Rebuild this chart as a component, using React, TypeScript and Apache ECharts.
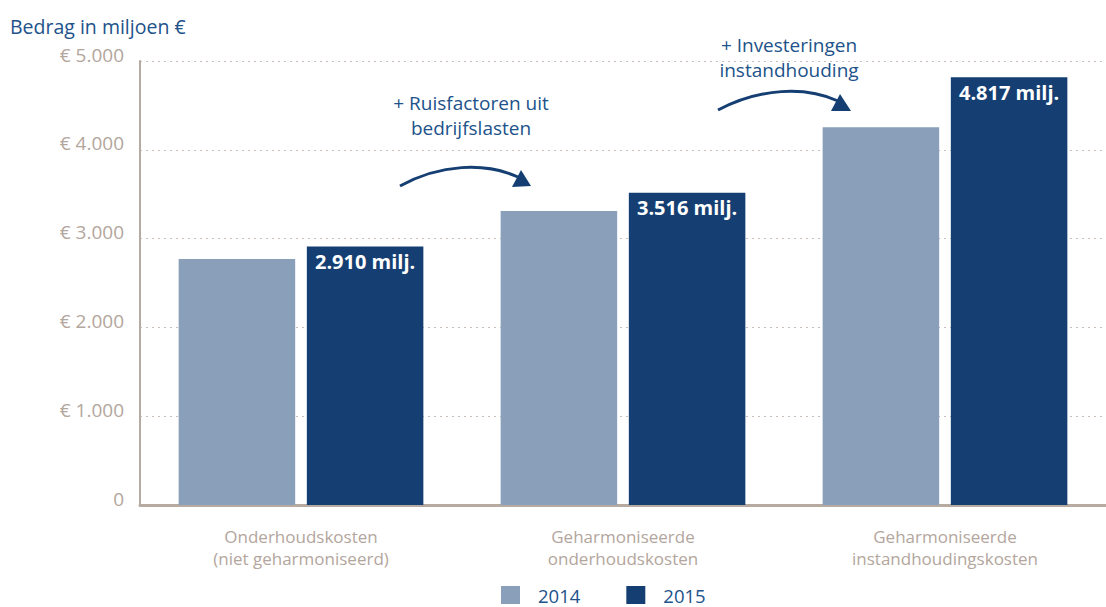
import React, { useEffect, useRef } from "react";
import * as echarts from "echarts";

const categories = [
  "Onderhoudskosten\n(niet geharmoniseerd)",
  "Geharmoniseerde\nonderhoudskosten",
  "Geharmoniseerde\ninstandhoudingskosten",
];
const values2014 = [2770, 3310, 4255];
const values2015 = [2910, 3516, 4817];
const seriesNames = ["2014", "2015"];
const yTicks = [0, 1000, 2000, 3000, 4000, 5000];

const FONT = "'Open Sans', 'Noto Sans', sans-serif";
const C2014 = "#8a9fb9";
const C2015 = "#153f73";
const AXIS = "#b7aba1";
const LABEL = "#b3a69d";
const BLUE_TEXT = "#21528a";

const fmt = (v: number) => {
  const s = String(Math.round(v));
  return s.replace(/\B(?=(\d{3})+(?!\d))/g, ".");
};

export default function App() {
  const ref = useRef<HTMLDivElement>(null);
  useEffect(() => {
    if (!ref.current) return;
    const chart = echarts.init(ref.current, undefined, { renderer: "svg" });
    chart.setOption({
      animation: false,
      grid: { left: 140, width: 972, top: 61, height: 444, containLabel: false },
      legend: {
        data: seriesNames,
        top: 584,
        left: 501,
        padding: 0,
        itemWidth: 19,
        itemHeight: 18,
        itemGap: 46,
        icon: "rect",
        textStyle: {
          color: BLUE_TEXT,
          fontSize: 18.5,
          lineHeight: 22,
          fontFamily: FONT,
          padding: [0, 0, 0, 13],
        },
      },
      xAxis: {
        type: "category",
        data: categories,
        axisTick: { show: false },
        axisLine: { show: true, lineStyle: { color: AXIS, width: 3 } },
        axisLabel: {
          color: LABEL,
          fontSize: 17,
          fontFamily: FONT,
          lineHeight: 22,
          margin: 20,
        },
      },
      yAxis: {
        type: "value",
        min: yTicks[0],
        max: yTicks[yTicks.length - 1],
        interval: 1000,
        axisLine: { show: true, lineStyle: { color: AXIS, width: 2 } },
        axisTick: { show: false },
        splitLine: { show: true, lineStyle: { color: "#c9bfb8", type: [2, 4], width: 1 } },
        axisLabel: {
          color: LABEL,
          fontSize: 19,
          fontFamily: FONT,
          margin: 16,
          verticalAlign: "bottom",
          lineHeight: 13,
          formatter: (v: number) => (v === 0 ? "0" : "€ " + fmt(v)),
        },
      },
      graphic: [
        {
          type: "text",
          left: 10,
          top: 16,
          style: { text: "Bedrag in miljoen €", fill: BLUE_TEXT, fontSize: 19.5, fontFamily: FONT },
        },
        {
          type: "text",
          x: 471,
          y: 90,
          style: {
            text: "+ Ruisfactoren uit\nbedrijfslasten",
            fill: BLUE_TEXT,
            fontSize: 19,
            lineHeight: 25,
            align: "center",
            fontFamily: FONT,
          },
        },
        {
          type: "text",
          x: 789,
          y: 32,
          style: {
            text: "+ Investeringen\ninstandhouding",
            fill: BLUE_TEXT,
            fontSize: 19,
            lineHeight: 25,
            align: "center",
            fontFamily: FONT,
          },
        },
        {
          type: "bezierCurve",
          shape: { x1: 400, y1: 186, cpx1: 440, cpy1: 164, cpx2: 485, cpy2: 162, x2: 518, y2: 177 },
          style: { stroke: C2015, lineWidth: 3, fill: "none" },
        },
        {
          type: "polygon",
          shape: { points: [[521, 170], [512, 187], [531, 186]] },
          style: { fill: C2015 },
        },
        {
          type: "bezierCurve",
          shape: { x1: 718, y1: 110, cpx1: 760, cpy1: 88, cpx2: 805, cpy2: 86, x2: 838, y2: 101 },
          style: { stroke: C2015, lineWidth: 3, fill: "none" },
        },
        {
          type: "polygon",
          shape: { points: [[840, 94], [831, 111], [851, 111]] },
          style: { fill: C2015 },
        },
      ],
      series: [
        {
          name: seriesNames[0],
          type: "bar",
          data: values2014,
          itemStyle: { color: C2014 },
          barGap: "10%",
          barCategoryGap: "24%",
        },
        {
          name: seriesNames[1],
          type: "bar",
          data: values2015,
          itemStyle: { color: C2015 },
          barGap: "10%",
          barCategoryGap: "24%",
          label: {
            show: true,
            position: "insideTop",
            distance: 5,
            color: "#ffffff",
            fontWeight: "bold",
            fontSize: 20,
            fontFamily: FONT,
            formatter: (p: any) => fmt(p.value) + " milj.",
          },
        },
      ],
    });
    return () => chart.dispose();
  }, []);
  return (
    <div
      ref={ref}
      style={{ position: "fixed", left: 0, top: 0, width: 1106, height: 607, background: "#fff" }}
    />
  );
}
